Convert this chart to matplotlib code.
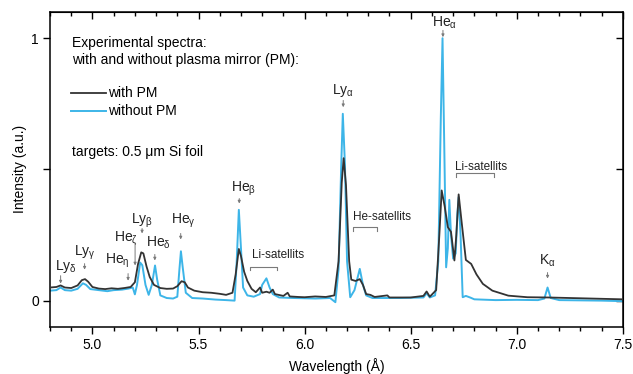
import matplotlib
matplotlib.use("Agg")
import matplotlib.pyplot as plt
from matplotlib.ticker import MultipleLocator

plt.rcParams['font.family'] = ['Liberation Sans', 'DejaVu Sans']
plt.rcParams['mathtext.fontset'] = 'custom'
plt.rcParams['mathtext.rm'] = 'Liberation Sans'
plt.rcParams['mathtext.it'] = 'Liberation Sans'
plt.rcParams['mathtext.sf'] = 'Liberation Sans'
plt.rcParams['mathtext.default'] = 'regular'

# Spectrum with plasma mirror (wavelength in Angstrom, normalised intensity)
wl_pm = [4.80, 4.83, 4.85, 4.87, 4.90, 4.93, 4.95, 4.965, 4.98, 5.00, 5.03, 5.06,
         5.09, 5.12, 5.15, 5.18, 5.20, 5.215, 5.23, 5.24, 5.255, 5.27, 5.29, 5.32,
         5.35, 5.38, 5.40, 5.42, 5.435, 5.45, 5.48, 5.52, 5.56, 5.60, 5.63, 5.66,
         5.675, 5.69, 5.70, 5.715, 5.73, 5.75, 5.77, 5.79, 5.80, 5.82, 5.835, 5.85,
         5.86, 5.90, 5.92, 5.93, 5.97, 6.00, 6.05, 6.10, 6.14, 6.16, 6.175, 6.184,
         6.195, 6.21, 6.22, 6.24, 6.26, 6.275, 6.29, 6.31, 6.33, 6.39, 6.40, 6.50,
         6.56, 6.575, 6.59, 6.62, 6.635, 6.646, 6.66, 6.675, 6.69, 6.706, 6.715,
         6.726, 6.74, 6.76, 6.785, 6.81, 6.84, 6.885, 6.96, 7.05, 7.15, 7.25, 7.35,
         7.45, 7.50]
int_pm = [0.050, 0.052, 0.058, 0.050, 0.048, 0.058, 0.078, 0.082, 0.072, 0.052, 0.046, 0.044,
          0.047, 0.045, 0.048, 0.052, 0.070, 0.140, 0.184, 0.180, 0.130, 0.090, 0.060, 0.048,
          0.045, 0.046, 0.055, 0.074, 0.070, 0.050, 0.038, 0.032, 0.030, 0.026, 0.022, 0.030,
          0.100, 0.197, 0.170, 0.110, 0.075, 0.045, 0.032, 0.050, 0.030, 0.034, 0.030, 0.042,
          0.025, 0.018, 0.030, 0.016, 0.014, 0.013, 0.016, 0.014, 0.020, 0.150, 0.450, 0.543,
          0.440, 0.150, 0.080, 0.075, 0.082, 0.060, 0.025, 0.022, 0.014, 0.020, 0.012, 0.012,
          0.018, 0.035, 0.015, 0.040, 0.250, 0.420, 0.360, 0.280, 0.262, 0.153, 0.250,
          0.405, 0.300, 0.155, 0.140, 0.100, 0.064, 0.038, 0.019, 0.013, 0.012, 0.010, 0.008,
          0.006, 0.005]

# Spectrum without plasma mirror
wl_nopm = [4.80, 4.83, 4.85, 4.87, 4.90, 4.93, 4.955, 4.97, 4.99, 5.03, 5.07, 5.10,
           5.14, 5.17, 5.19, 5.20, 5.21, 5.225, 5.235, 5.25, 5.265, 5.28, 5.295, 5.305,
           5.32, 5.35, 5.38, 5.40, 5.41, 5.417, 5.425, 5.44, 5.47, 5.52, 5.58, 5.63,
           5.67, 5.68, 5.69, 5.70, 5.71, 5.73, 5.76, 5.79, 5.80, 5.82, 5.835, 5.85,
           5.88, 5.95, 6.05, 6.12, 6.145, 6.16, 6.172, 6.18, 6.19, 6.20, 6.215, 6.235,
           6.26, 6.275, 6.29, 6.32, 6.45, 6.56, 6.575, 6.59, 6.615, 6.63, 6.642, 6.650,
           6.658, 6.667, 6.675, 6.682, 6.69, 6.70, 6.712, 6.72, 6.726, 6.735, 6.745,
           6.76, 6.78, 6.80, 6.90, 7.00, 7.10, 7.13, 7.145, 7.16, 7.20, 7.30, 7.40, 7.50]
int_nopm = [0.038, 0.040, 0.050, 0.040, 0.038, 0.045, 0.066, 0.060, 0.044, 0.040, 0.036, 0.040,
            0.042, 0.046, 0.050, 0.024, 0.060, 0.145, 0.135, 0.060, 0.022, 0.060, 0.134, 0.080,
            0.020, 0.010, 0.008, 0.015, 0.120, 0.188, 0.130, 0.030, 0.010, 0.008, 0.004, 0.002,
            0.000, 0.150, 0.346, 0.200, 0.050, 0.020, 0.015, 0.025, 0.060, 0.085, 0.050, 0.025,
            0.012, 0.010, 0.008, 0.010, -0.006, 0.120, 0.500, 0.712, 0.520, 0.150, 0.013, 0.040,
            0.121, 0.060, 0.020, 0.010, 0.010, 0.012, 0.028, 0.012, 0.020, 0.150, 0.700, 1.000,
            0.600, 0.127, 0.200, 0.384, 0.250, 0.160, 0.180, 0.330, 0.394, 0.250, 0.013,
            0.018, 0.012, 0.005, 0.002, 0.003, 0.002, 0.008, 0.050, 0.010, 0.002, 0.001, 0.000,
            -0.002]

# Line identifications: (label, label x, label y, arrow x, arrow top, arrow bottom)
line_ids = [
    (r"Ly$_{\delta}$", 4.874, 0.130, 4.850, 0.095, 0.065),
    (r"Ly$_{\gamma}$", 4.963, 0.183, 4.963, 0.141, 0.118),
    (r"He$_{\eta}$", 5.117, 0.153, 5.168, 0.103, 0.076),
    (r"Ly$_{\beta}$", 5.234, 0.305, 5.234, 0.275, 0.256),
    (r"He$_{\delta}$", 5.313, 0.221, 5.294, 0.176, 0.153),
    (r"He$_{\gamma}$", 5.430, 0.305, 5.416, 0.256, 0.233),
    (r"He$_{\beta}$", 5.710, 0.427, 5.692, 0.389, 0.370),
    (r"Ly$_{\alpha}$", 6.182, 0.800, 6.182, 0.763, 0.737),
    (r"He$_{\alpha}$", 6.659, 1.057, 6.652, 1.030, 1.004),
    (r"K$_{\alpha}$", 7.145, 0.153, 7.145, 0.107, 0.084),
]
# Satellite groups: (label, label x, label y, bracket start, bracket end, bracket y)
sat_groups = [
    ("Li-satellits", 5.874, 0.172, 5.743, 5.869, 0.130),
    ("He-satellits", 6.364, 0.317, 6.229, 6.341, 0.279),
    ("Li-satellits", 6.832, 0.508, 6.715, 6.893, 0.485),
]

c_pm = "#333333"
c_nopm = "#3db5e8"
c_ann = "#7a7a7a"

fig = plt.figure(figsize=(6.33, 3.74), dpi=100)
ax = fig.add_axes([0.079, 0.126, 0.905, 0.842])

ax.plot(wl_nopm, int_nopm, color=c_nopm, lw=1.4, label="without PM", zorder=2)
ax.plot(wl_pm, int_pm, color=c_pm, lw=1.3, label="with PM", zorder=3)

ax.set_xlim(4.8, 7.5)
ax.set_ylim(-0.1, 1.1)
ax.set_xticks([5.0, 5.5, 6.0, 6.5, 7.0, 7.5])
ax.xaxis.set_minor_locator(MultipleLocator(0.1))
ax.set_yticks([0, 0.5, 1])
ax.set_yticklabels(["0", "", "1"])
ax.tick_params(axis='both', which='major', labelsize=10, length=5, width=1, direction='out', pad=3)
ax.tick_params(axis='x', which='minor', length=3, width=1, direction='out')
for s in ax.spines.values():
    s.set_linewidth(1.1)

# Inward ticks on top and right frame
top = ax.secondary_xaxis('top')
top.set_xticks([5.0, 5.5, 6.0, 6.5, 7.0, 7.5])
top.xaxis.set_minor_locator(MultipleLocator(0.1))
top.tick_params(which='major', direction='in', length=5, width=1, labeltop=False)
top.tick_params(which='minor', direction='in', length=3, width=1)
right = ax.secondary_yaxis('right')
right.set_yticks([0, 0.5, 1])
right.tick_params(direction='in', length=5, width=1, labelright=False)

ax.set_xlabel("Wavelength (\u00c5)", fontsize=10, labelpad=4)
ax.set_ylabel("Intensity (a.u.)", fontsize=10, labelpad=3)

for lab, tx, ty, axx, ay0, ay1 in line_ids:
    ax.text(tx, ty, lab, fontsize=10, ha='center', va='center', color='#222222')
    ax.annotate('', xy=(axx, ay1), xytext=(axx, ay0),
                arrowprops=dict(arrowstyle='-|>', color=c_ann, lw=0.7,
                                mutation_scale=4, shrinkA=0, shrinkB=0))

# He-zeta marked with a long vertical line
ax.text(5.159, 0.237, r"He$_{\zeta}$", fontsize=10, ha='center', va='center', color='#222222')
ax.annotate('', xy=(5.201, 0.134), xytext=(5.201, 0.218),
            arrowprops=dict(arrowstyle='-|>', color=c_ann, lw=0.7,
                            mutation_scale=4, shrinkA=0, shrinkB=0))

for lab, tx, ty, x0, x1, by in sat_groups:
    ax.text(tx, ty, lab, fontsize=8.5, ha='center', va='center', color='#222222')
    ax.plot([x0, x0, x1, x1], [by - 0.012, by, by, by - 0.012], color=c_ann, lw=0.8)

# Legend block
tr = ax.transAxes
ax.text(0.038, 0.902, "Experimental spectra:", transform=tr, fontsize=10, va='center', ha='left')
ax.text(0.038, 0.848, "with and without plasma mirror (PM):", transform=tr, fontsize=10,
        va='center', ha='left')
ax.plot([0.037, 0.098], [0.743, 0.743], transform=tr, color=c_pm, lw=1.3)
ax.text(0.101, 0.743, "with PM", transform=tr, fontsize=10, va='center', ha='left')
ax.plot([0.037, 0.098], [0.686, 0.686], transform=tr, color=c_nopm, lw=1.4)
ax.text(0.101, 0.686, "without PM", transform=tr, fontsize=10, va='center', ha='left')
ax.text(0.038, 0.556, "targets: 0.5 \u03bcm Si foil", transform=tr, fontsize=10,
        va='center', ha='left')

fig.savefig("out.png", dpi=100)
